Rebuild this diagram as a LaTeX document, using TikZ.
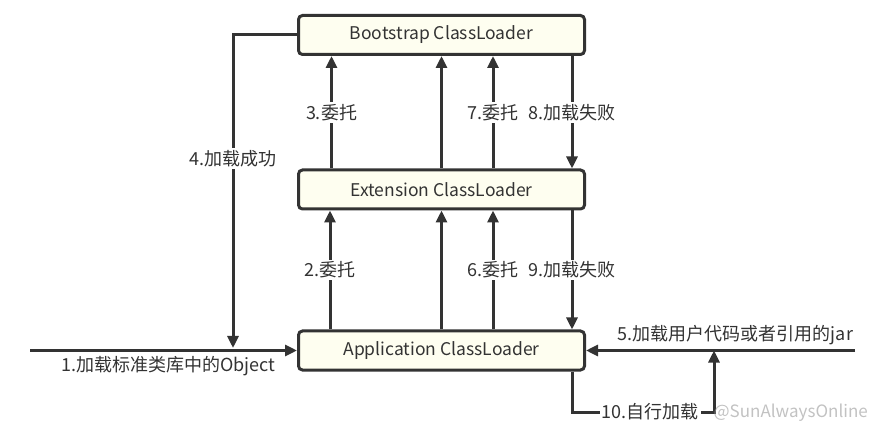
\documentclass[tikz,border=0pt]{standalone}
\usepackage{fontspec}
\setmainfont{Noto Sans CJK SC}
\usetikzlibrary{arrows.meta}
\definecolor{ink}{HTML}{333333}
\definecolor{boxfill}{HTML}{FEFEF0}
\tikzset{
  box/.style={draw=ink, line width=3pt, rounded corners=4pt, fill=boxfill,
    minimum width=286pt, minimum height=39pt, inner sep=0pt, text=ink,
    font=\fontsize{17.5pt}{20pt}\selectfont},
  arr/.style={draw=ink, line width=3pt, -{Triangle[length=12pt,width=11pt]}},
  lbl/.style={fill=white, text=ink, inner sep=2pt, font=\fontsize{18pt}{21pt}\selectfont},
  lblnf/.style={text=ink, inner sep=1pt, font=\fontsize{18pt}{21pt}\selectfont}
}
\begin{document}
\begin{tikzpicture}[x=1pt,y=-1pt]
\useasboundingbox (0,0) rectangle (883,435);
\node[box] (boot) at (441.5,35) {Bootstrap ClassLoader};
\node[box] (ext) at (441.5,189.5) {Extension ClassLoader};
\node[box] (app) at (441.5,350.5) {Application ClassLoader};
\coordinate (in1) at (30,350.5);
\coordinate (in5) at (855,350.5);
\coordinate (a4) at (233,348);
\coordinate (c10) at (714,412);
% ext -> boot
\draw[arr] ([xshift=-110pt]ext.north) -- node[lbl]{3.委托} ([xshift=-110pt]boot.south);
\draw[arr] (ext.north) -- (boot.south);
\draw[arr] ([xshift=51.5pt]ext.north) -- node[lbl]{7.委托} ([xshift=51.5pt]boot.south);
\draw[arr] ([xshift=130.5pt]boot.south) -- node[lbl]{8.加载失败} ([xshift=130.5pt]ext.north);
% app -> ext
\draw[arr] ([xshift=-111.5pt]app.north) -- node[lbl]{2.委托} ([xshift=-111.5pt]ext.south);
\draw[arr] (app.north) -- (ext.south);
\draw[arr] ([xshift=51.5pt]app.north) -- node[lbl]{6.委托} ([xshift=51.5pt]ext.south);
\draw[arr] ([xshift=130.5pt]ext.south) -- node[lbl]{9.加载失败} ([xshift=130.5pt]app.north);
% 4
\draw[arr] (boot.west) -| node[lbl, pos=0.697]{4.加载成功} (a4);
% 1 and 5
\draw[arr] (in1) -- node[lblnf, below=3pt, xshift=5pt]{1.加载标准类库中的Object} (app.west);
\draw[arr] (in5) -- node[lblnf, above=3pt, xshift=15pt]{5.加载用户代码或者引用的jar} (app.east);
% 10
\draw[arr] ([xshift=130.5pt]app.south) |- node[lbl, pos=0.775]{10.自行加载} (c10) -- (c10 |- in5);
\node[text=black!40, opacity=0.6, inner sep=0pt, font=\fontsize{17pt}{20pt}\selectfont, anchor=east] (wm) at (868,413) {@SunAlwaysOnline};
\end{tikzpicture}
\end{document}
